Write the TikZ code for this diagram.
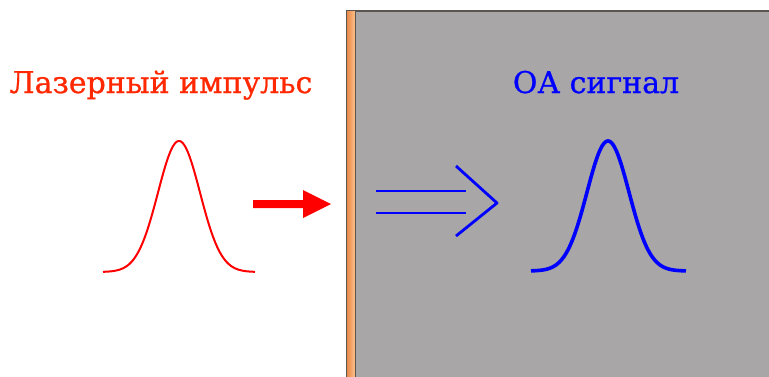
\documentclass[tikz,border=0pt]{standalone}
\usepackage{fontspec}
\setmainfont{DejaVu Serif}[FakeBold=0.8]
\definecolor{panelgray}{HTML}{A8A6A6}
\definecolor{edgegray}{HTML}{5A5550}
\definecolor{stripdark}{HTML}{E8884A}
\definecolor{striplight}{HTML}{FFC48C}
\definecolor{laserred}{HTML}{FF2800}
\begin{document}
\begin{tikzpicture}[x=1pt,y=-1pt,
  lbl/.style={font=\fontsize{30}{33}\selectfont, inner sep=0pt, anchor=base},
  redcurve/.style={draw=red, line width=2pt, line join=round},
  bluecurve/.style={draw=blue, line width=3.6pt, line join=round},
  bluearrow/.style={draw=blue, line width=2.8pt}]
\useasboundingbox (0,0) rectangle (769,376);
\fill[white] (0,0) rectangle (769,376);
% panel
\node[draw=edgegray, line width=1.5pt, fill=panelgray, minimum width=424pt, minimum height=368pt, anchor=north west, inner sep=0pt] (panel) at (346,10) {};
\node[draw=edgegray, line width=1.2pt, left color=stripdark, right color=striplight, minimum width=9pt, minimum height=368pt, anchor=north west, inner sep=0pt] (strip) at (346,10) {};
% labels
\node[lbl, text=laserred] (t1) at (161,93) {Лазерный импульс};
\node[lbl, text=blue] (t2) at (596,93) {ОА сигнал};
% gaussians
\draw[redcurve] plot[domain=103:255, samples=120, smooth] (\x, {272 - 131*exp(-((\x-179)^2)/(2*21^2))});
\draw[bluecurve] plot[domain=531:686, samples=120, smooth] (\x, {271 - 130*exp(-((\x-608)^2)/(2*21^2))});
% red arrow
\coordinate (ra1) at (253,204);
\coordinate (ra2) at (331,204);
\fill[red] (253,200) -- (303,200) -- (303,190) -- (331,204) -- (303,218) -- (303,208) -- (253,208) -- cycle;
% blue double arrow
\coordinate (b1s) at (376,191); \coordinate (b1e) at (466,191);
\coordinate (b2s) at (376,213); \coordinate (b2e) at (466,213);
\coordinate (c1) at (456,166); \coordinate (c2) at (497,203); \coordinate (c3) at (456,236);
\draw[bluearrow] (b1s) -- (b1e);
\draw[bluearrow] (b2s) -- (b2e);
\draw[bluearrow, line join=round] (c1) -- (c2) -- (c3);
\end{tikzpicture}
\end{document}
